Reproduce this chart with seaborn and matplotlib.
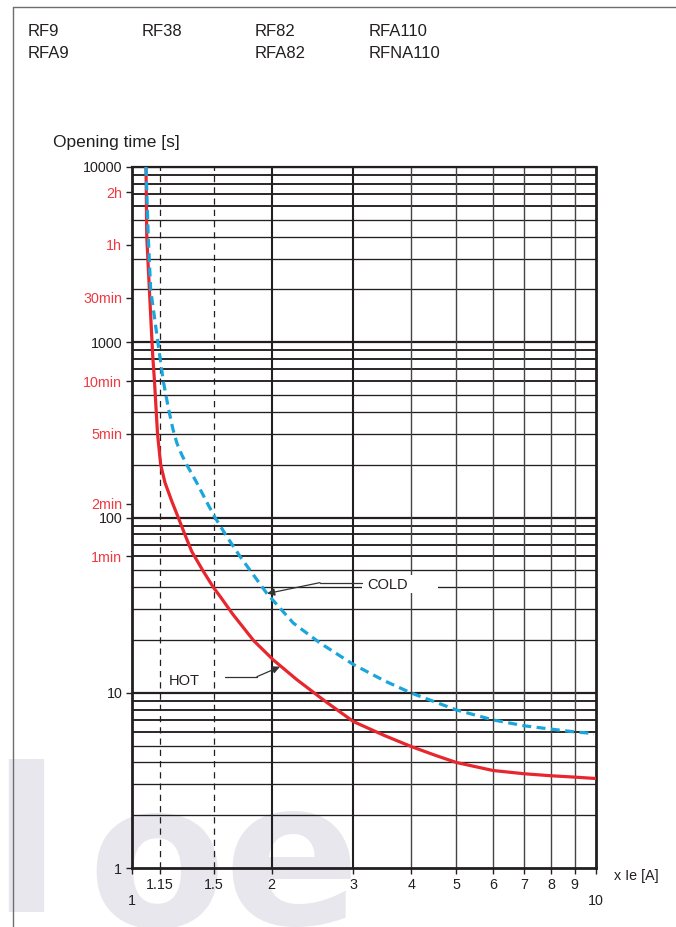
import numpy as np
import pandas as pd
import matplotlib
matplotlib.use("Agg")
import matplotlib.pyplot as plt
import seaborn as sns
from matplotlib.lines import Line2D
from matplotlib.patches import Rectangle

# ---------------- data ----------------
hot_x = [1.072, 1.076, 1.090, 1.108, 1.118, 1.135, 1.153, 1.178, 1.218, 1.258, 1.30, 1.345,
         1.42, 1.497, 1.548, 1.65, 1.83, 2.016, 2.264, 2.6, 3.0, 3.5, 4.0, 4.5, 5.0, 6.0, 7.0,
         8.0, 9.0, 10.0]
hot_t = [10000, 4000, 2000, 850, 600, 300, 200, 158, 124, 100, 80, 64,
         50, 40, 35.5, 28, 19.8, 15.4, 11.9, 9.0, 6.85, 5.7, 4.93, 4.4, 4.0, 3.6, 3.45,
         3.36, 3.30, 3.24]

cold_x = [1.072, 1.084, 1.097, 1.137, 1.168, 1.198, 1.225, 1.25, 1.28, 1.312, 1.379, 1.46,
          1.51, 1.60, 1.709, 1.951, 2.226, 2.544, 3.0, 3.5, 4.0, 5.0, 6.0, 7.0, 8.0, 9.0, 9.9]
cold_t = [10000, 4000, 2000, 1000, 600, 420, 320, 265, 228, 200, 158, 118,
          100, 78, 60, 37, 25, 19.2, 14.5, 11.7, 9.96, 7.98, 7.0, 6.48, 6.2, 5.98, 5.85]

decade_ticks = [1, 10, 100, 1000, 10000]
decade_labels = ["1", "10", "100", "1000", "10000"]
time_marks = [7200, 3600, 1800, 600, 300, 120, 60]
time_labels = ["2h", "1h", "30min", "10min", "5min", "2min", "1min"]
x_ticks = [1.15, 1.5, 2, 3, 4, 5, 6, 7, 8, 9]
x_tick_labels = ["1.15", "1.5", "2", "3", "4", "5", "6", "7", "8", "9"]
x_end_ticks = [1, 10]
x_end_labels = ["1", "10"]
dashed_refs = [1.15, 1.5]
bold_verticals = [2, 3]
thin_verticals = [4, 5, 6, 7, 8, 9]

model_cols = [["RF9", "RFA9"], ["RF38"], ["RF82", "RFA82"], ["RFA110", "RFNA110"]]

# ---------------- style ----------------
sns.set_theme(style="white")
plt.rcParams["font.family"] = ["Liberation Sans", "DejaVu Sans"]

INK = "#231f20"
RED = "#e8262d"
RED_TXT = "#ee3a43"
BLUE = "#1aa6dc"
WM = "#e7e7ed"

W, H = 676, 927
fig = plt.figure(figsize=(W / 100, H / 100), dpi=100)
fig.patch.set_facecolor("white")

def fx(px):
    return px / W

def fy(py):
    return 1 - py / H

ax = fig.add_axes([fx(132), fy(868), fx(596) - fx(132), fy(167) - fy(868)])
ax.set_facecolor("none")
ax.set_xscale("log")
ax.set_yscale("log")
ax.set_xlim(1, 10)
ax.set_ylim(1, 10000)

# watermark (logo letters, behind the axes)
wm_kw = dict(color=WM, fontsize=145, fontweight="bold", family="DejaVu Sans",
             va="baseline", zorder=-5)
fig.text(fx(26), fy(912), "l", ha="center", **wm_kw)
fig.text(fx(157), fy(926), "o", ha="center", **wm_kw)
fig.text(fx(292), fy(924), "e", ha="center", **wm_kw)

# horizontal grid
for dec in [1, 10, 100, 1000]:
    for m in range(2, 10):
        ax.axhline(m * dec, color=INK, lw=1.35 if m >= 6 else 0.95, zorder=1)
    ax.axhline(dec * 10, color=INK, lw=1.6, zorder=1)

# vertical grid
for v in bold_verticals:
    ax.axvline(v, color=INK, lw=1.5, zorder=1)
for v in thin_verticals:
    ax.axvline(v, color="#444444", lw=1.0, zorder=1)
for v in dashed_refs:
    ax.axvline(v, color=INK, lw=0.9, linestyle=(0, (5, 4)), zorder=1)

# curves
sns.lineplot(x=hot_x, y=hot_t, ax=ax, color=RED, lw=2.3, zorder=4, sort=False)
sns.lineplot(x=cold_x, y=cold_t, ax=ax, color=BLUE, lw=2.3, zorder=4, sort=False,
             linestyle=(0, (2.8, 1.7)))

# spines
for s in ["left", "bottom", "right"]:
    ax.spines[s].set_visible(True)
    ax.spines[s].set_color(INK)
    ax.spines[s].set_linewidth(2.0)
ax.spines["top"].set_visible(True)
ax.spines["top"].set_color(INK)
ax.spines["top"].set_linewidth(1.6)

# y ticks
ax.set_yticks(decade_ticks, labels=decade_labels)
ax.set_yticks(time_marks, labels=time_labels, minor=True)
ax.tick_params(axis="y", which="both", direction="out", length=4, width=1,
               color=INK, labelsize=10.3, pad=3, left=True)
ax.tick_params(axis="y", which="major", labelcolor=INK)
ax.tick_params(axis="y", which="minor", labelcolor=RED_TXT)

# x ticks
ax.set_xticks(x_ticks, labels=x_tick_labels)
ax.set_xticks(x_end_ticks, labels=x_end_labels, minor=True)
ax.tick_params(axis="x", which="both", direction="out", length=4, width=1,
               color=INK, labelsize=10.3, labelcolor=INK, bottom=True)
ax.tick_params(axis="x", which="major", pad=3)
ax.tick_params(axis="x", which="minor", pad=15)

# annotations: COLD
ax.add_patch(Rectangle((3.13, 37.3), 4.57 - 3.13, 47.2 - 37.3, facecolor="white",
                       edgecolor="none", zorder=5))
ax.text(3.56, 41.4, "COLD", ha="center", va="center", fontsize=10.5, color=INK, zorder=6)
ax.plot([3.13, 2.542], [42.5, 42.5], color="#333333", lw=0.9, zorder=6)
ax.annotate("", xy=(1.955, 36.8), xytext=(2.542, 42.5),
            arrowprops=dict(arrowstyle="-|>", color="#333333", lw=0.9,
                            shrinkA=0, shrinkB=0, mutation_scale=11), zorder=6)

# annotations: HOT
ax.text(1.294, 11.7, "HOT", ha="center", va="center", fontsize=10.5, color=INK, zorder=6)
ax.plot([1.586, 1.859], [12.35, 12.35], color="#333333", lw=0.9, zorder=6)
ax.annotate("", xy=(2.084, 14.08), xytext=(1.859, 12.35),
            arrowprops=dict(arrowstyle="-|>", color="#333333", lw=0.9,
                            shrinkA=0, shrinkB=0, mutation_scale=11), zorder=6)

# axis titles
fig.text(fx(53), fy(143), "Opening time [s]", ha="left", va="center", fontsize=12.5, color=INK)
fig.text(fx(614), fy(876), "x Ie [A]", ha="left", va="center", fontsize=10.3, color=INK)

# model labels at the top
col_x = [28, 142, 255, 369]
row_y = [32, 53]
for cx, names in zip(col_x, model_cols):
    for ry, name in zip(row_y, names):
        fig.text(fx(cx), fy(ry), name, ha="left", va="center", fontsize=12, color=INK)

# page frame
fig.add_artist(Line2D([fx(13), 1.0], [fy(7), fy(7)], color="#6d6e71", lw=1.0))
fig.add_artist(Line2D([fx(13), fx(13)], [fy(7), 0.0], color="#6d6e71", lw=1.0))

fig.savefig("out.png", dpi=100, facecolor="white")
